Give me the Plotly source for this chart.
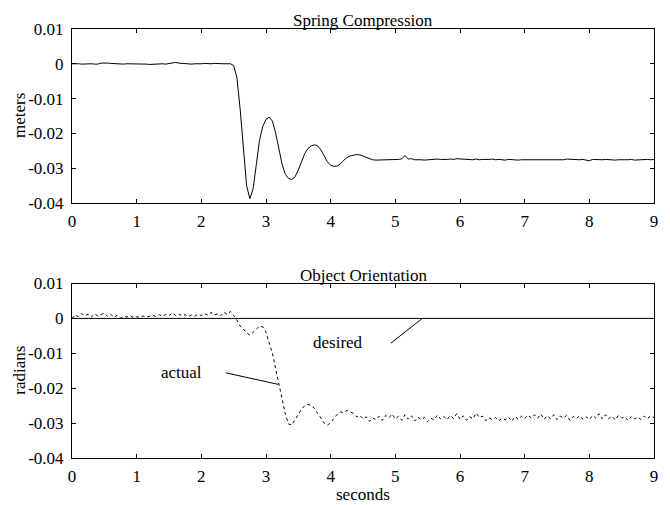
import plotly.graph_objects as go

# ---------------- data ----------------
time_s = [round(0.05 * i, 2) for i in range(181)]   # sample grid 0..9 s

spring_m = [
    # 0.00 - 0.45
    0.0000, 0.0001, 0.0000, -0.0001, 0.0000, 0.0001, 0.0000, -0.0001, -0.0001, 0.0002,
    # 0.50 - 0.95
    0.0003, 0.0002, 0.0001, 0.0000, 0.0001, -0.0002, -0.0001, 0.0000, 0.0000, -0.0001,
    # 1.00 - 1.45
    0.0000, 0.0001, 0.0000, -0.0001, -0.0002, -0.0001, 0.0000, 0.0001, 0.0000, -0.0001,
    # 1.50 - 1.95
    0.0001, 0.0003, 0.0004, 0.0002, 0.0001, -0.0001, 0.0000, -0.0001, 0.0000, -0.0001,
    # 2.00 - 2.45
    0.0000, 0.0001, 0.0000, 0.0000, 0.0001, 0.0000, -0.0001, 0.0000, 0.0000, 0.0000,
    # 2.50 - 2.95
    -0.0005, -0.0040, -0.0130, -0.0250, -0.0350, -0.0388, -0.0360, -0.0290, -0.0220, -0.0180,
    # 3.00 - 3.45
    -0.0160, -0.0153, -0.0165, -0.0200, -0.0245, -0.0290, -0.0318, -0.0330, -0.0333, -0.0325,
    # 3.50 - 3.95
    -0.0305, -0.0280, -0.0258, -0.0243, -0.0236, -0.0233, -0.0236, -0.0248, -0.0265, -0.0282,
    # 4.00 - 4.45
    -0.0292, -0.0295, -0.0294, -0.0288, -0.0278, -0.0270, -0.0265, -0.0262, -0.0261, -0.0262,
    # 4.50 - 4.95
    -0.0266, -0.0270, -0.0274, -0.0276, -0.0277, -0.0277, -0.0277, -0.0277, -0.0276, -0.0276,
    # 5.00 - 5.45
    -0.0275, -0.0275, -0.0273, -0.0264, -0.0274, -0.0273, -0.0276, -0.0275, -0.0276, -0.0277,
    # 5.50 - 5.95
    -0.0276, -0.0275, -0.0276, -0.0274, -0.0275, -0.0276, -0.0275, -0.0274, -0.0275, -0.0273,
    # 6.00 - 6.45
    -0.0274, -0.0275, -0.0276, -0.0275, -0.0276, -0.0274, -0.0276, -0.0275, -0.0276, -0.0275,
    # 6.50 - 6.95
    -0.0274, -0.0276, -0.0275, -0.0276, -0.0277, -0.0275, -0.0276, -0.0275, -0.0277, -0.0276,
    # 7.00 - 7.45
    -0.0276, -0.0275, -0.0276, -0.0277, -0.0276, -0.0275, -0.0277, -0.0276, -0.0275, -0.0276,
    # 7.50 - 7.95
    -0.0276, -0.0275, -0.0276, -0.0274, -0.0275, -0.0276, -0.0275, -0.0276, -0.0275, -0.0276,
    # 8.00 - 8.45
    -0.0279, -0.0275, -0.0276, -0.0275, -0.0276, -0.0275, -0.0276, -0.0275, -0.0277, -0.0276,
    # 8.50 - 8.95
    -0.0275, -0.0276, -0.0276, -0.0275, -0.0277, -0.0276, -0.0275, -0.0276, -0.0275, -0.0276,
    # 9.00
    -0.0275,
]

orient_actual = [
    # 0.00 - 0.45
    0.0000, 0.0010, 0.0005, 0.0014, 0.0008, 0.0012, 0.0004, 0.0013, 0.0007, 0.0011,
    # 0.50 - 0.95
    0.0015, 0.0006, 0.0012, 0.0003, 0.0009, 0.0001, 0.0006, 0.0004, 0.0008, 0.0002,
    # 1.00 - 1.45
    0.0005, 0.0003, 0.0007, 0.0004, 0.0006, 0.0009, 0.0005, 0.0011, 0.0006, 0.0012,
    # 1.50 - 1.95
    0.0008, 0.0016, 0.0009, 0.0013, 0.0007, 0.0011, 0.0005, 0.0010, 0.0006, 0.0012,
    # 2.00 - 2.45
    0.0008, 0.0014, 0.0009, 0.0017, 0.0010, 0.0013, 0.0008, 0.0018, 0.0011, 0.0020,
    # 2.50 - 2.95
    0.0008, -0.0005, -0.0022, -0.0030, -0.0042, -0.0048, -0.0040, -0.0030, -0.0022, -0.0024,
    # 3.00 - 3.45
    -0.0040, -0.0070, -0.0100, -0.0145, -0.0190, -0.0235, -0.0275, -0.0303, -0.0305, -0.0290,
    # 3.50 - 3.95
    -0.0275, -0.0260, -0.0250, -0.0246, -0.0250, -0.0258, -0.0272, -0.0288, -0.0300, -0.0306,
    # 4.00 - 4.45
    -0.0298, -0.0287, -0.0275, -0.0268, -0.0270, -0.0264, -0.0268, -0.0272, -0.0282, -0.0278,
    # 4.50 - 4.95
    -0.0288, -0.0282, -0.0295, -0.0285, -0.0290, -0.0280, -0.0292, -0.0278, -0.0285, -0.0274,
    # 5.00 - 5.45
    -0.0288, -0.0280, -0.0292, -0.0276, -0.0289, -0.0279, -0.0294, -0.0283, -0.0290, -0.0284,
    # 5.50 - 5.95
    -0.0296, -0.0286, -0.0291, -0.0277, -0.0288, -0.0281, -0.0290, -0.0278, -0.0287, -0.0273,
    # 6.00 - 6.45
    -0.0289, -0.0279, -0.0292, -0.0282, -0.0288, -0.0271, -0.0284, -0.0280, -0.0293, -0.0285,
    # 6.50 - 6.95
    -0.0290, -0.0284, -0.0293, -0.0286, -0.0291, -0.0283, -0.0295, -0.0281, -0.0289, -0.0280,
    # 7.00 - 7.45
    -0.0287, -0.0277, -0.0285, -0.0276, -0.0286, -0.0274, -0.0289, -0.0279, -0.0288, -0.0276,
    # 7.50 - 7.95
    -0.0290, -0.0280, -0.0286, -0.0278, -0.0292, -0.0281, -0.0287, -0.0279, -0.0289, -0.0282,
    # 8.00 - 8.45
    -0.0290, -0.0278, -0.0286, -0.0273, -0.0288, -0.0276, -0.0287, -0.0280, -0.0291, -0.0278,
    # 8.50 - 8.95
    -0.0285, -0.0282, -0.0293, -0.0281, -0.0288, -0.0283, -0.0290, -0.0280, -0.0287, -0.0279,
    # 9.00
    -0.0284,
]

desired_time = [0, 9]
desired_rad = [0, 0]

x_ticks = [0, 1, 2, 3, 4, 5, 6, 7, 8, 9]
x_tick_text = ["0", "1", "2", "3", "4", "5", "6", "7", "8", "9"]
y_ticks = [0.01, 0, -0.01, -0.02, -0.03, -0.04]
y_tick_text = ["0.01", "0", "-0.01", "-0.02", "-0.03", "-0.04"]

# ---------------- figure ----------------
FONT = "Liberation Serif, Times New Roman, serif"
FS = 17

fig = go.Figure()
fig.add_trace(go.Scatter(x=time_s, y=spring_m, mode="lines",
                         line=dict(color="black", width=1),
                         xaxis="x", yaxis="y", showlegend=False))
fig.add_trace(go.Scatter(x=desired_time, y=desired_rad, mode="lines",
                         line=dict(color="black", width=1),
                         xaxis="x2", yaxis="y2", showlegend=False))
fig.add_trace(go.Scatter(x=time_s, y=orient_actual, mode="lines",
                         line=dict(color="black", width=1, dash="dot"),
                         xaxis="x2", yaxis="y2", showlegend=False))

axis_common = dict(showline=True, linecolor="black", linewidth=1, mirror="ticks",
                   ticks="inside", ticklen=4, tickcolor="black", tickwidth=1,
                   showgrid=False, zeroline=False,
                   tickfont=dict(family=FONT, size=FS, color="black"))

# page has an 8 px body margin: figure starts at (8, 8)
W, H = 662, 497
top_dom = [0.5947, 1.0]
bot_dom = [0.0, 0.4067]

fig.update_layout(
    width=W, height=H,
    margin=dict(l=64, r=16, t=14, b=47),
    paper_bgcolor="white", plot_bgcolor="white",
    font=dict(family=FONT, size=FS, color="black"),
    xaxis=dict(domain=[0, 1], anchor="y", range=[0, 9], tickvals=x_ticks,
               ticktext=x_tick_text, ticklabelstandoff=3, **axis_common),
    yaxis=dict(domain=top_dom, anchor="x", range=[-0.04, 0.01], tickvals=y_ticks,
               ticktext=y_tick_text, ticklabelstandoff=4, **axis_common),
    xaxis2=dict(domain=[0, 1], anchor="y2", range=[0, 9], tickvals=x_ticks,
                ticktext=x_tick_text, ticklabelstandoff=3, **axis_common),
    yaxis2=dict(domain=bot_dom, anchor="x2", range=[-0.04, 0.01], tickvals=y_ticks,
                ticktext=y_tick_text, ticklabelstandoff=4, **axis_common),
)

ann_font = dict(family=FONT, size=FS, color="black")
annotations = [
    dict(text="Spring Compression", xref="paper", yref="paper", x=0.5, y=top_dom[1],
         xanchor="center", yanchor="bottom", showarrow=False, font=ann_font, yshift=-3),
    dict(text="Object Orientation", xref="paper", yref="paper", x=0.5, y=bot_dom[1],
         xanchor="center", yanchor="bottom", showarrow=False, font=ann_font, yshift=-3),
    dict(text="meters", xref="paper", yref="paper", x=0, y=(top_dom[0] + top_dom[1]) / 2,
         xanchor="center", yanchor="middle", xshift=-52, textangle=-90,
         showarrow=False, font=ann_font),
    dict(text="radians", xref="paper", yref="paper", x=0, y=(bot_dom[0] + bot_dom[1]) / 2,
         xanchor="center", yanchor="middle", xshift=-52, textangle=-90,
         showarrow=False, font=ann_font),
    dict(text="seconds", xref="paper", yref="paper", x=0.5, y=0,
         xanchor="center", yanchor="middle", yshift=-36,
         showarrow=False, font=ann_font),
    dict(text="actual", xref="x2", yref="y2", x=1.69, y=-0.0154,
         xanchor="center", yanchor="middle", showarrow=False, font=ann_font),
    dict(text="desired", xref="x2", yref="y2", x=4.11, y=-0.0069,
         xanchor="center", yanchor="middle", showarrow=False, font=ann_font),
]
fig.update_layout(annotations=annotations)

fig.add_shape(type="line", xref="x2", yref="y2", x0=2.38, y0=-0.0156, x1=3.19, y1=-0.0189,
              line=dict(color="black", width=1))
fig.add_shape(type="line", xref="x2", yref="y2", x0=4.93, y0=-0.0071, x1=5.41, y1=-0.0001,
              line=dict(color="black", width=1))

fig.write_html("out.html")
